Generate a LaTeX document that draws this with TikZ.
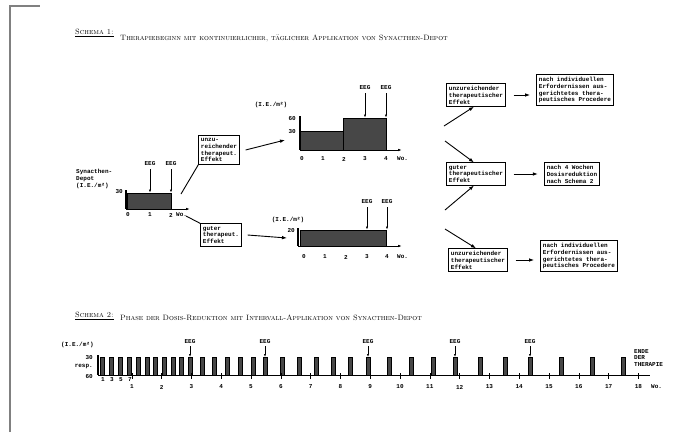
\documentclass[tikz,border=0pt]{standalone}
\usepackage{fontspec}
\newfontfamily\typefont{Liberation Mono}
\usetikzlibrary{positioning,arrows.meta}
\newcommand\smalltype{\typefont\bfseries\fontsize{6.0}{6.9}\selectfont}
\newcommand\titletype{\rmfamily\fontsize{7.7}{8}\selectfont\scshape}
\tikzset{
  outcome/.style={draw, line width=0.8pt, align=left, inner sep=2.2pt},
  procbox/.style={draw, line width=0.8pt, align=left, inner sep=2.5pt},
  flowarrow/.style={-{Latex[length=5pt,width=3.6pt]}, line width=0.9pt},
  axisarrow/.style={-{Latex[length=4pt,width=2.6pt]}, line width=0.8pt},
  eegarrow/.style={-{Latex[length=3pt,width=2.2pt]}, line width=0.6pt},
  plainlink/.style={line width=0.9pt},
  yaxis/.style={line width=1.2pt},
  ticklabel/.style={inner sep=0pt},
  doseblock/.style={draw=black, fill=black!72, line width=0.4pt, inner sep=0pt},
  framegray/.style={draw=black!50, line width=2pt}
}

\begin{document}
\begin{tikzpicture}[x=1pt, y=-1pt, >=Latex, every node/.style={font=\smalltype}]
  \useasboundingbox (0,0) rectangle (681,432);
  \draw[framegray] (10,432) -- (10,6) -- (40,6);

  % Schema 1
  \node[anchor=west, font=\titletype, inner sep=0pt] (head1) at (75,33) {\underline{Schema 1:}};
  \node[anchor=west, font=\titletype, inner sep=0pt] (title1) at (120,38) {Therapiebeginn mit kontinuierlicher, täglicher Applikation von Synacthen-Depot};

  % start dose
  \node[align=left, anchor=west, inner sep=0pt] (depot) at (76,179) {Synacthen-\\Depot\\(I.E./m²)};
  \draw[yaxis] (126,190) -- (126,209);
  \node[ticklabel, anchor=east] (s30) at (123,192) {30};
  \node[doseblock, minimum width=44pt, minimum height=16pt, anchor=south west] (startbar) at (127,209) {};
  \draw[axisarrow] (126,209) -- (190,209);
  \node[ticklabel] (s0) at (128,215) {0};
  \node[ticklabel] (s1) at (150,215) {1};
  \node[ticklabel] (s2) at (171,215) {2};
  \node[ticklabel, anchor=west] (swo) at (176,215) {Wo.};
  \node[ticklabel] (eegs1) at (150,164) {EEG};
  \node[ticklabel] (eegs2) at (171,164) {EEG};
  \draw[eegarrow] (eegs1.south) ++(0,3) -- (eegs1.south |- startbar.north);
  \draw[eegarrow] (eegs2.south) ++(0,3) -- (eegs2.south |- startbar.north);

  % first outcomes
  \node[outcome] (upbox) at (219,150) {unzu-\\reichender\\therapeut.\\Effekt};
  \node[outcome] (lowbox) at (221,235) {guter\\therapeut.\\Effekt};
  \coordinate (upstart) at (181,194);
  \coordinate (lowstart) at (186,216);
  \draw[plainlink] (upstart) -- (upbox.south west);
  \draw[plainlink] (lowstart) -- (lowbox.north west);

  % raised dose
  \node[ticklabel] (uunit) at (271,105) {(I.E./m²)};
  \draw[yaxis] (300,116) -- (300,150);
  \node[ticklabel, anchor=east] (u60) at (296,119) {60};
  \node[ticklabel, anchor=east] (u30) at (296,132) {30};
  \node[doseblock, minimum width=43pt, minimum height=19pt, anchor=south west] (ubar1) at (300,150) {};
  \node[doseblock, minimum width=43pt, minimum height=32pt, anchor=south west] (ubar2) at (343,150) {};
  \draw[axisarrow] (300,150) -- (402,150);
  \foreach \lab/\px in {0/302,1/323,2/344,3/365,4/386}
    \node[ticklabel] (utick\lab) at (\px,159) {\lab};
  \node[ticklabel, anchor=west] (uwo) at (397,159) {Wo.};
  \node[ticklabel] (eegu1) at (365,88) {EEG};
  \node[ticklabel] (eegu2) at (386,88) {EEG};
  \draw[eegarrow] (eegu1.south) ++(0,3) -- (eegu1.south |- ubar2.north);
  \draw[eegarrow] (eegu2.south) ++(0,3) -- (eegu2.south |- ubar2.north);
  \coordinate (uin) at (285,140);
  \draw[flowarrow] (upbox.east) ++(6,0) -- (uin);

  % same dose
  \node[ticklabel] (lunit) at (288,220) {(I.E./m²)};
  \draw[yaxis] (298,228) -- (298,246);
  \node[ticklabel, anchor=east] (l20) at (295,231) {20};
  \node[doseblock, minimum width=86pt, minimum height=16pt, anchor=south west] (lbar) at (300,246) {};
  \draw[axisarrow] (298,246) -- (402,246);
  \foreach \lab/\px in {0/304,1/325,2/346,3/367,4/387}
    \node[ticklabel] (ltick\lab) at (\px,257) {\lab};
  \node[ticklabel, anchor=west] (lwo) at (397,257) {Wo.};
  \node[ticklabel] (eegl1) at (367,202) {EEG};
  \node[ticklabel] (eegl2) at (387,202) {EEG};
  \draw[eegarrow] (eegl1.south) ++(0,3) -- (eegl1.south |- lbar.north);
  \draw[eegarrow] (eegl2.south) ++(0,3) -- (eegl2.south |- lbar.north);
  \coordinate (lin) at (287,238);
  \draw[flowarrow] (lowbox.east) ++(6,0) -- (lin);

  % right column
  \node[outcome] (resA) at (476,95) {unzureichender\\therapeutischer\\Effekt};
  \node[procbox] (procA) at (575,90) {nach individuellen\\Erfordernissen aus-\\gerichtetes thera-\\peutisches Procedere};
  \node[outcome] (resB) at (476,174) {guter\\therapeutischer\\Effekt};
  \node[procbox] (procB) at (572,174) {nach 4 Wochen\\Dosisreduktion\\nach Schema 2};
  \node[outcome] (resC) at (478,260) {unzureichender\\therapeutischer\\Effekt};
  \node[procbox] (procC) at (579,256) {nach individuellen\\Erfordernissen aus-\\gerichtetes thera-\\peutisches Procedere};
  \draw[flowarrow] ([xshift=8pt]resA.east) -- ([xshift=-6pt]procA.west |- resA.east);
  \draw[flowarrow] ([xshift=8pt]resB.east) -- ([xshift=-6pt]procB.west |- resB.east);
  \draw[flowarrow] ([xshift=8pt]resC.east) -- ([xshift=-6pt]procC.west |- resC.east);
  \coordinate (inA) at (444,126);
  \coordinate (inB1) at (445,141);
  \coordinate (inB2) at (445,210);
  \coordinate (inC) at (445,229);
  \draw[flowarrow] (inA) -- ([xshift=-2pt]resA.south);
  \draw[flowarrow] (inB1) -- ([xshift=-2pt]resB.north);
  \draw[flowarrow] (inB2) -- ([xshift=-2pt]resB.south);
  \draw[flowarrow] (inC) -- ([xshift=-2pt]resC.north);

  % Schema 2
  \node[anchor=west, font=\titletype, inner sep=0pt] (head2) at (75,316) {\underline{Schema 2:}};
  \node[anchor=west, font=\titletype, inner sep=0pt] (title2) at (120,318) {Phase der Dosis-Reduktion mit Intervall-Applikation von Synacthen-Depot};
  \node[ticklabel, anchor=west] (iunit) at (61,345) {(I.E./m²)};
  \node[ticklabel, anchor=east] (i30) at (93,358) {30};
  \node[ticklabel, anchor=east] (iresp) at (93,367) {resp.};
  \node[ticklabel, anchor=east] (i60) at (93,377) {60};
  \draw[yaxis] (98,355) -- (98,375);
  \foreach \bx [count=\i] in {102,111,120,129,138,147,155,164,173,181,190,
                              202,214,227,240,253,265,282,299,316,333,350,
                              368,389,411,433,455,480,505,530,561,592,623}
    \node[doseblock, minimum width=4.5pt, minimum height=18pt, anchor=south] (dose\i) at (\bx,375) {};
  \draw[line width=0.8pt] (98,375) -- (650,375);
  \foreach \w in {1,...,18} {
    \draw[line width=0.5pt] (102+29.8*\w,373) -- (102+29.8*\w,379);
    \node[ticklabel] (wk\w) at (102+29.8*\w,387) {\w};
  }
  \foreach \d/\px in {1/103,3/112,5/121,7/130}
    \node[ticklabel] (day\d) at (\px,380) {\d};
  \node[ticklabel, anchor=west] (iwo) at (651,387) {Wo.};
  \node[align=left, anchor=west, inner sep=0pt] (ende) at (634,358) {ENDE\\DER\\THERAPIE};
  \coordinate (dosetop) at (0,357);
  \foreach \ex [count=\k] in {190,265,368,455,530} {
    \node[ticklabel] (eegi\k) at (\ex,342) {EEG};
    \draw[eegarrow] (eegi\k.south) ++(0,2) -- (eegi\k.south |- dosetop);
  }
\end{tikzpicture}
\end{document}
